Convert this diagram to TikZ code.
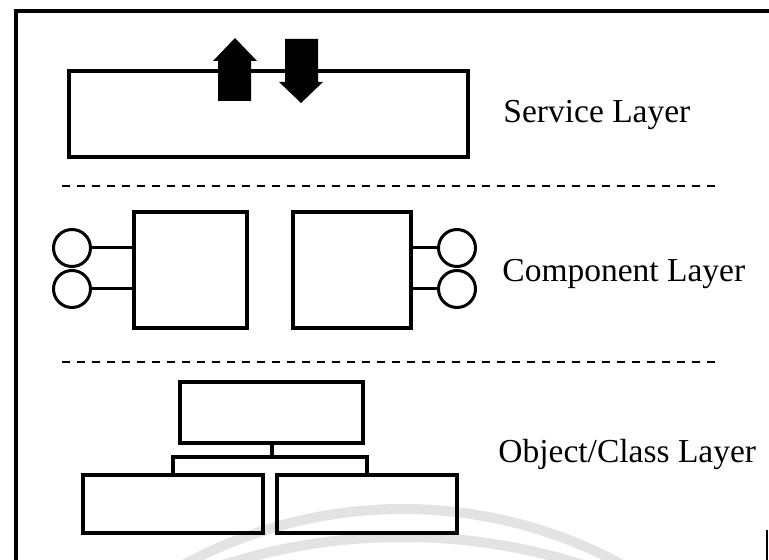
\documentclass[tikz,border=0pt]{standalone}
\usepackage{fontspec}
\setmainfont{Liberation Serif}
\begin{document}
\begin{tikzpicture}[x=0.5pt,y=-0.5pt,
  box/.style={draw,line width=1.6pt,inner sep=0pt,outer sep=0pt},
  port/.style={draw,circle,line width=1.5pt,minimum size=18.5pt,inner sep=0pt,outer sep=0pt},
  wire/.style={line width=1.5pt},
  tree/.style={line width=2pt},
  sep/.style={line width=1.3pt,dash pattern=on 4pt off 3.5pt},
  frame/.style={line width=2pt},
  layertext/.style={font=\fontsize{16.75}{20}\selectfont,inner sep=0pt,anchor=base west},
  haze/.style={line width=5pt,gray!22}]
\useasboundingbox (0,0) rectangle (769,560);

% faint background arcs
\begin{scope}
  \clip (0,0) rectangle (769,560);
  \draw[haze] (403,967) circle[radius=229pt];
  \draw[haze] (403,1126) circle[radius=294.5pt];
\end{scope}

% page frame
\draw[frame] (15,11) -- (769,11);
\draw[frame] (16,9) -- (16,560);
\draw[line width=1pt] (767,530) -- (767,560);

% service layer
\node[box,minimum width=199.5pt,minimum height=43pt] (svc) at (268.5,114) {};
\fill (218,101) -- (218,61) -- (213,61) -- (235,38) -- (257,61) -- (251,61) -- (251,101) -- cycle;
\fill (285,39) -- (285,82) -- (279,82) -- (301,103) -- (323,82) -- (318,82) -- (318,39) -- cycle;
\node[layertext] (svcl) at (503,123) {Service Layer};

\draw[sep] (62,186) -- (718,186);

% component layer
\node[box,minimum width=56.5pt,minimum height=58pt] (cl) at (190.5,270) {};
\node[box,minimum width=59pt,minimum height=58pt] (cr) at (352,270) {};
\node[port] (p1) at (72,248) {};
\node[port] (p2) at (72,289) {};
\node[port] (p3) at (457,248) {};
\node[port] (p4) at (457,289) {};
\draw[wire] (p1.east) -- (p1.east -| cl.west);
\draw[wire] (p2.east) -- (p2.east -| cl.west);
\draw[wire] (p3.west) -- (p3.west -| cr.east);
\draw[wire] (p4.west) -- (p4.west -| cr.east);
\node[layertext] (compl) at (502,282) {Component Layer};

\draw[sep] (62,362) -- (718,362);

% object/class layer
\node[box,minimum width=91.5pt,minimum height=30.5pt] (top) at (271.5,412.5) {};
\node[box,minimum width=90pt,minimum height=29pt] (bl) at (173,504) {};
\node[box,minimum width=90pt,minimum height=29pt] (br) at (367,504) {};
\draw[tree] (top.south) -- ++(0,14) coordinate (j);
\draw[tree] (bl.north) |- (j) -| (br.north);
\node[layertext] (objl) at (498,462) {Object/Class Layer};
\end{tikzpicture}
\end{document}
